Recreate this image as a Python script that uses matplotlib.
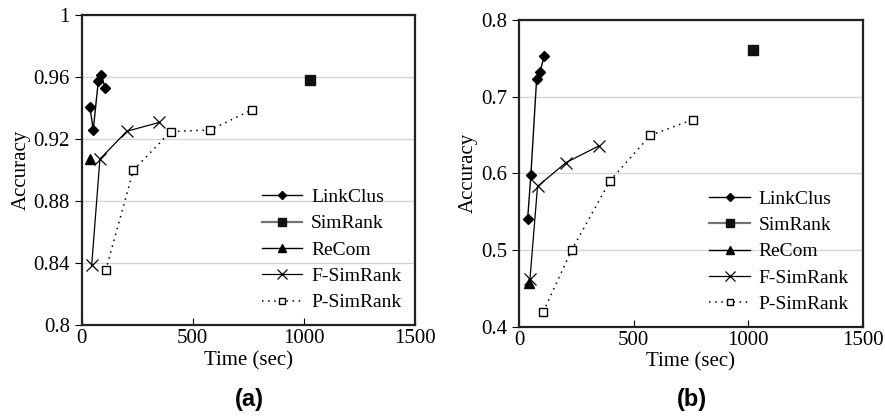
import matplotlib

matplotlib.use("Agg")
import matplotlib.pyplot as plt

plt.rcParams["font.family"] = ["Liberation Serif", "DejaVu Serif"]

# (a) left panel
a_linkclus_t = [37, 52, 75, 87, 106]
a_linkclus_acc = [0.9406, 0.9258, 0.9576, 0.9613, 0.953]
a_simrank_t = [1028]
a_simrank_acc = [0.958]
a_recom_t = [37]
a_recom_acc = [0.9068]
a_fsim_t = [45, 82, 203, 350]
a_fsim_acc = [0.8385, 0.907, 0.925, 0.9307]
a_psim_t = [108, 233, 401, 578, 765]
a_psim_acc = [0.8352, 0.900, 0.9248, 0.9258, 0.9387]

# (b) right panel
b_linkclus_t = [38, 52, 77, 92, 110]
b_linkclus_acc = [0.541, 0.598, 0.7226, 0.7326, 0.753]
b_simrank_t = [1023]
b_simrank_acc = [0.7605]
b_recom_t = [45]
b_recom_acc = [0.4575]
b_fsim_t = [48, 81, 205, 350]
b_fsim_acc = [0.462, 0.583, 0.614, 0.636]
b_psim_t = [106, 230, 398, 573, 758]
b_psim_acc = [0.4195, 0.500, 0.5905, 0.6495, 0.670]

names = ["LinkClus", "SimRank", "ReCom", "F-SimRank", "P-SimRank"]


def draw(ax, data, yticks, ylabels):
    (lt, la), (st, sa), (rt, ra), (ft, fa), (pt, pa) = data
    ax.plot(lt, la, color="black", lw=1.0, marker="D", ms=5, label=names[0])
    ax.plot(st, sa, color="0.45", lw=1.6, marker="s", ms=6.5, mfc="#111111",
            mec="#111111", label=names[1])
    ax.plot(rt, ra, color="black", lw=1.0, marker="^", ms=7.5, label=names[2])
    ax.plot(ft, fa, color="black", lw=0.9, marker="x", ms=9, mew=0.9, label=names[3])
    ax.plot(pt, pa, color="black", lw=1.1, ls=(0, (1, 3)), marker="s", ms=5.5,
            mfc="white", mec="black", mew=1.0, label=names[4])
    ax.set_xlim(0, 1500)
    ax.set_ylim(yticks[0], yticks[-1])
    ax.set_xticks([0, 500, 1000, 1500])
    ax.set_yticks(yticks)
    ax.set_yticklabels(ylabels)
    ax.yaxis.grid(True, color="#d6d6d6", lw=1.0)
    ax.set_axisbelow(True)
    for s in ax.spines.values():
        s.set_linewidth(1.6)
        s.set_color("#222222")
    ax.tick_params(axis="x", direction="in", length=5, labelsize=15, pad=3)
    ax.tick_params(axis="y", direction="out", length=5, labelsize=15)
    ax.set_xlabel("Time (sec)", fontsize=15, labelpad=2)
    ax.set_ylabel("Accuracy", fontsize=15, labelpad=2)
    ax.legend(loc="lower right", frameon=False, fontsize=14, handlelength=2.1,
              handletextpad=0.45, labelspacing=0.45, borderaxespad=0.3,
              markerscale=0.8)


fig = plt.figure(figsize=(8.85, 4.19), dpi=100)
ax1 = fig.add_axes([0.0923, 0.2243, 0.3766, 0.74])
ax2 = fig.add_axes([0.5864, 0.2203, 0.3884, 0.732])

draw(ax1,
     [(a_linkclus_t, a_linkclus_acc), (a_simrank_t, a_simrank_acc),
      (a_recom_t, a_recom_acc), (a_fsim_t, a_fsim_acc), (a_psim_t, a_psim_acc)],
     [0.8, 0.84, 0.88, 0.92, 0.96, 1.0],
     ["0.8", "0.84", "0.88", "0.92", "0.96", "1"])
draw(ax2,
     [(b_linkclus_t, b_linkclus_acc), (b_simrank_t, b_simrank_acc),
      (b_recom_t, b_recom_acc), (b_fsim_t, b_fsim_acc), (b_psim_t, b_psim_acc)],
     [0.4, 0.5, 0.6, 0.7, 0.8],
     ["0.4", "0.5", "0.6", "0.7", "0.8"])

fig.text(0.282, 0.032, "(a)", fontsize=17, fontweight="bold",
         family=["Liberation Sans", "DejaVu Sans"], ha="center")
fig.text(0.782, 0.032, "(b)", fontsize=17, fontweight="bold",
         family=["Liberation Sans", "DejaVu Sans"], ha="center")

fig.savefig("out.png", dpi=100)
